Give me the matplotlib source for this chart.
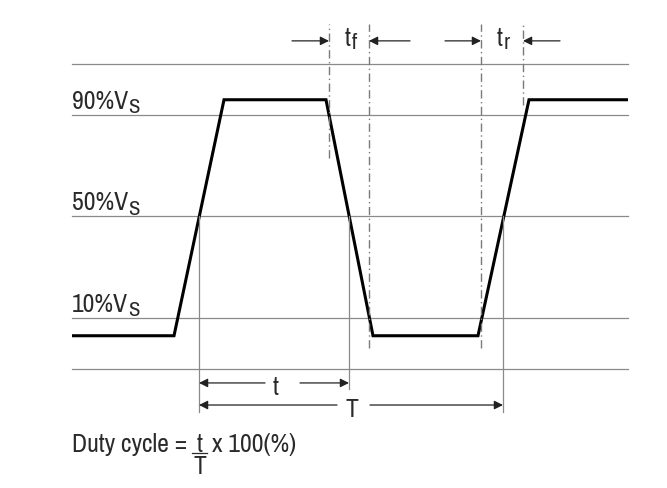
import matplotlib
matplotlib.use("Agg")
import matplotlib.pyplot as plt

# ---------------- data (time units ~ horizontal, level in % of Vs) -------------
guide_levels = [110, 90, 50, 10, -10]          # horizontal reference lines
level_labels = ["90%V", "50%V", "10%V"]
level_sub = "S"
label_levels = [90, 50, 10]
wave_t = [72, 174, 224, 326, 373, 478, 529, 628]
wave_v = [3, 3, 96, 96, 3, 3, 96, 96]
guide_t_range = [72, 628]
edge_marks_t = [329, 369, 481, 523]           # dash-dot edge markers (tf, tr)
edge_marks_v0 = [73, -2, -2, 94]
edge_marks_v1 = [126, 126, 126, 126]
cross_t = [199, 349, 503]                     # 50% crossing verticals
cross_v1 = [-27, -18, -27]
edge_labels = [("t", "f"), ("t", "r")]
edge_label_t = [345, 497]
t_label, T_label = "t", "T"
duty_text = ["Duty cycle =", "x 100(%)"]

# ---------------- figure ---------------------------------------------------------
plt.rcParams["font.family"] = ["Archivo Narrow", "Liberation Sans", "DejaVu Sans"]

fig = plt.figure(figsize=(6.67, 4.89), dpi=100)
ax = fig.add_axes([0, 0, 1, 1])
ax.set_xlim(0, 667)
ax.set_ylim(-57, 135.7)
ax.axis("off")

gray = "#8a8a8a"
txt = "#2a2a2a"
fs = 18.5


def sub_text(x, y, main, sub, sub_fs=15, drop=-3.0):
    t1 = ax.text(x, y, main, fontsize=fs, color=txt, ha="left", va="bottom")
    ax.annotate(sub, xy=(1, 0), xycoords=t1, xytext=(0.3, drop),
                textcoords="offset points", fontsize=sub_fs, color=txt,
                ha="left", va="bottom")


for lv in guide_levels:
    ax.plot(guide_t_range, [lv, lv], color=gray, lw=0.9)

ax.plot(wave_t, wave_v, color="black", lw=2.2, solid_joinstyle="miter",
        solid_capstyle="butt")

for t, v0, v1 in zip(edge_marks_t, edge_marks_v0, edge_marks_v1):
    ax.plot([t, t], [v0, v1], color="#7a7a7a", lw=1.0,
            linestyle=(0, (6, 2.5, 1, 2.5)))

for t, v1 in zip(cross_t, cross_v1):
    ax.plot([t, t], [50, v1], color=gray, lw=0.9)

for lab, lv in zip(level_labels, label_levels):
    sub_text(72, lv + 1.2, lab, level_sub)

arrow = dict(arrowstyle="-|>", color="#222222", lw=0.9, mutation_scale=13,
             shrinkA=0, shrinkB=0)
arrow_v = 119.2
for a, b in [(292, edge_marks_t[0]), (410, edge_marks_t[1]),
             (445, edge_marks_t[2]), (560, edge_marks_t[3])]:
    ax.annotate("", xy=(b, arrow_v), xytext=(a, arrow_v), arrowprops=arrow)
for (m, s), x in zip(edge_labels, edge_label_t):
    sub_text(x, 116.0, m, s, sub_fs=16, drop=-2.5)

# t and T spans
tv, Tv = -15.6, -24.3
ax.annotate("", xy=(cross_t[0], tv), xytext=(265, tv), arrowprops=arrow)
ax.annotate("", xy=(cross_t[1], tv), xytext=(300, tv), arrowprops=arrow)
ax.text(276, -20.0, t_label, fontsize=fs, color=txt, ha="center", va="baseline")
ax.annotate("", xy=(cross_t[0], Tv), xytext=(337, Tv), arrowprops=arrow)
ax.annotate("", xy=(cross_t[2], Tv), xytext=(370, Tv), arrowprops=arrow)
ax.text(352, -28.6, T_label, fontsize=fs, color=txt, ha="center", va="baseline")

# duty cycle formula
ax.text(72, -42.4, duty_text[0], fontsize=fs, color=txt, ha="left", va="baseline")
ax.text(199.5, -42.4, "t", fontsize=fs, color=txt, ha="center", va="baseline")
ax.plot([192, 207], [-43.2, -43.2], color=txt, lw=0.9)
ax.text(199.5, -50.9, "T", fontsize=fs, color=txt, ha="center", va="baseline")
ax.text(212, -42.4, duty_text[1], fontsize=fs, color=txt, ha="left", va="baseline")

fig.savefig("out.png", dpi=100)
